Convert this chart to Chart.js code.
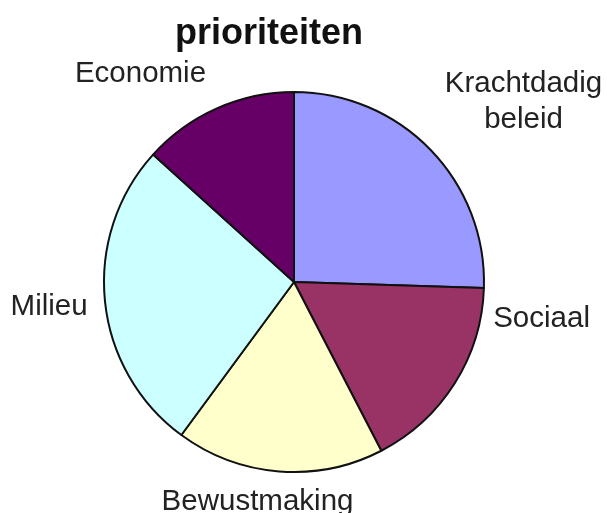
<!DOCTYPE html>
<html>
<head>
<meta charset="utf-8">
<title>prioriteiten</title>
<script src="https://cdn.jsdelivr.net/npm/chart.js@4"></script>
<style>
  body { margin: 0; background: #fff; }
  canvas { display: block; }
</style>
</head>
<body>
<canvas id="pieChart" width="607" height="513"></canvas>
<script>
// data (share in %)
const categories = ["Krachtdadig beleid", "Sociaal", "Bewustmaking", "Milieu", "Economie"];
const shares = [25.5, 16.9, 17.7, 26.6, 13.3];
const sliceColors = ["#9999ff", "#993366", "#ffffcc", "#ccffff", "#660066"];
const chartTitle = "prioriteiten";

// where each label sits, in pie radii from the centre (baseline, centred text)
const labelSpots = [
  { lines: ["Krachtdadig", "beleid"], dx: 1.208, dy: -1.0 },
  { lines: ["Sociaal"], dx: 1.303, dy: 0.237 },
  { lines: ["Bewustmaking"], dx: -0.192, dy: 1.2 },
  { lines: ["Milieu"], dx: -1.289, dy: 0.174 },
  { lines: ["Economie"], dx: -0.808, dy: -1.053 },
];

//TODO labels + title drawn next to the pie
const outsideLabels = {
  id: "outsideLabels",
  afterDraw(chart) {
    const ctx = chart.ctx;
    const arc = chart.getDatasetMeta(0).data[0];
    const cx = arc.x, cy = arc.y, r = arc.outerRadius;
    ctx.save();
    ctx.textAlign = "center";
    ctx.textBaseline = "alphabetic";
    ctx.fillStyle = "#111";
    ctx.font = "bold 36px 'Liberation Sans', Arial, sans-serif";
    ctx.fillText(chartTitle, cx - 25, cy - r - 48);

    ctx.fillStyle = "#222";
    ctx.font = "29.5px 'Liberation Sans', Arial, sans-serif";
    labelSpots.forEach((spot) => {
      spot.lines.forEach((line, i) => {
        ctx.fillText(line, cx + spot.dx * r, cy + spot.dy * r + i * 36);
      });
    });
    ctx.restore();
  },
};

const data = {
  labels: categories,
  datasets: [
    {
      data: shares,
      backgroundColor: sliceColors,
      borderColor: "#111",
      borderWidth: 2,
    },
  ],
};

let config = {
  type: "pie",
  data: data,
  options: {
    responsive: false,
    animation: false,
    layout: {
      padding: { top: 91, bottom: 40, left: 100, right: 119 },
    },
    plugins: {
      legend: { display: false },
      tooltip: { enabled: false },
    },
  },
  plugins: [outsideLabels],
};

const ctx = document.getElementById("pieChart").getContext("2d");
let myChart = new Chart(ctx, config);
</script>
</body>
</html>
